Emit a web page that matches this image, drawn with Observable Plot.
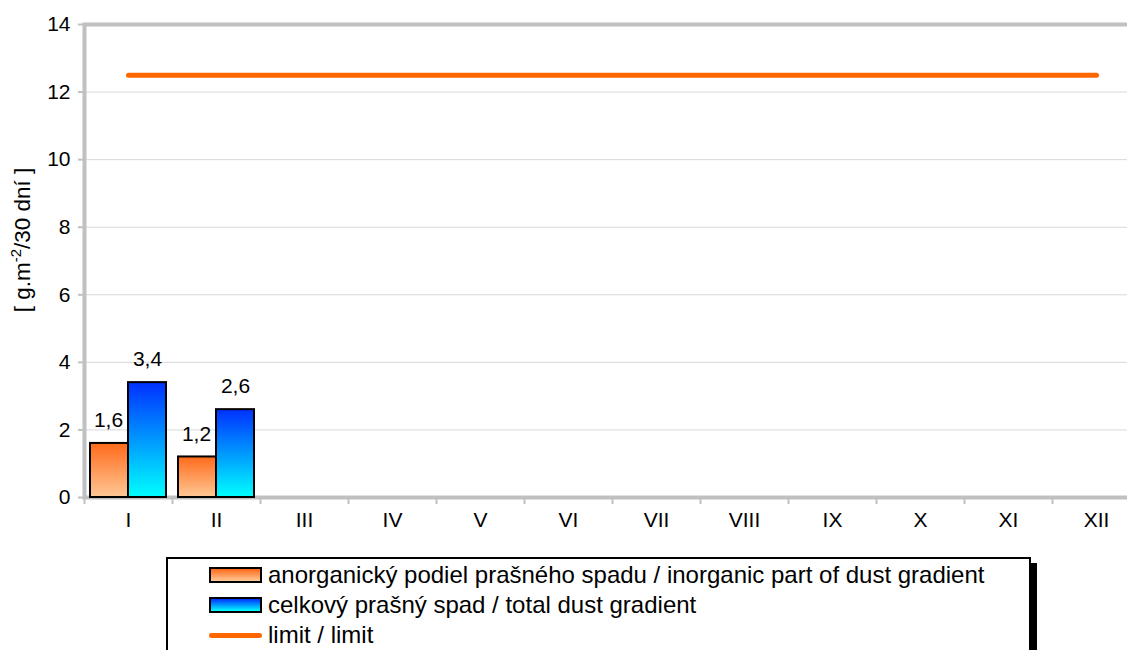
<!DOCTYPE html>
<html>
<head>
<meta charset="utf-8">
<script src="https://cdn.jsdelivr.net/npm/d3@7"></script>
<script src="https://cdn.jsdelivr.net/npm/@observablehq/plot@0.6"></script>
<style>
  body { margin: 0; background: #fff; font-family: "Liberation Sans", Arial, sans-serif; }
  #wrap { position: relative; width: 1127px; height: 650px; overflow: hidden; }
  #chart svg { max-width: none !important; }
  #legend {
    position: absolute; left: 166px; top: 557px; width: 865px; height: 130px;
    border: 2px solid #000; box-shadow: 6px 6px 0 #000; background: #fff;
    font-size: 24px; color: #000; padding-top: 1px; box-sizing: border-box;
  }
  .row { display: flex; align-items: center; height: 30px; padding-left: 41px; white-space: nowrap; }
  .sw { width: 49px; height: 12px; border: 2px solid #000; margin-right: 6px; }
  .sw.o { background: linear-gradient(#ff6a1a, #ffc896); }
  .sw.b { background: linear-gradient(#0033ff, #00ffff); }
  .ln { width: 53px; height: 5px; border-radius: 3px; background: #ff6600; margin-right: 6px; }
</style>
</head>
<body>
<div id="wrap">
  <div id="chart"></div>
  <div id="legend">
    <div class="row"><span class="sw o"></span>anorganický podiel prašného spadu / inorganic part of dust gradient</div>
    <div class="row"><span class="sw b"></span>celkový prašný spad / total dust gradient</div>
    <div class="row"><span class="ln"></span>limit / limit</div>
  </div>
</div>
<script>
const months = ["I","II","III","IV","V","VI","VII","VIII","IX","X","XI","XII"];
const inorganic = [1.6, 1.2, null, null, null, null, null, null, null, null, null, null];
const total = [3.4, 2.6, null, null, null, null, null, null, null, null, null, null];
const limitValue = 12.5;
const yTicks = [0, 2, 4, 6, 8, 10, 12, 14];

const rows = months.map((m, i) => ({month: m, inorganic: inorganic[i], total: total[i], limit: limitValue}));
const inorgRows = rows.filter(d => d.inorganic != null);
const totalRows = rows.filter(d => d.total != null);
const fmt = v => String(v).replace(".", ",");

const W = 1140, ML = 84;
const bw = (W - ML) / months.length;
const half = bw / 2;
const inset = 6;
const font = "Liberation Sans, Arial, sans-serif";

const plot = Plot.plot({
  width: W,
  height: 550,
  marginLeft: ML,
  marginRight: 0,
  marginTop: 24,
  marginBottom: 53,
  style: {fontFamily: font, fontSize: "21px", color: "#000", background: "#fff", overflow: "visible", maxWidth: "none"},
  x: {domain: months, padding: 0, label: null},
  y: {domain: [0, 14], ticks: yTicks, label: null},
  marks: [
    Plot.gridY(yTicks, {stroke: "#d9d9d9", strokeOpacity: 1, strokeWidth: 1}),
    Plot.axisY(yTicks, {tickSize: 6, tickPadding: 8, stroke: "#c0c0c0", strokeWidth: 2, fill: "#000", fontSize: 21, tickFormat: d => d}),
    Plot.axisX({tickSize: 7, text: null, dx: -half, stroke: "#c0c0c0", strokeWidth: 2}),
    Plot.axisX({tickSize: 0, tickPadding: 15, fill: "#000", fontSize: 21}),
    Plot.frame({stroke: "#c0c0c0", strokeWidth: 4}),
    Plot.barY(inorgRows, {x: "month", y: "inorganic", fill: "url(#gOrange)", stroke: "#000", strokeWidth: 2, insetLeft: inset, insetRight: half}),
    Plot.barY(totalRows, {x: "month", y: "total", fill: "url(#gBlue)", stroke: "#000", strokeWidth: 2, insetLeft: half, insetRight: inset}),
    Plot.text(inorgRows, {x: "month", y: "inorganic", text: d => fmt(d.inorganic), dx: -(half - inset) / 2 - 1, dy: -23, fill: "#000", fontSize: 21}),
    Plot.text(totalRows, {x: "month", y: "total", text: d => fmt(d.total), dx: (half - inset) / 2, dy: -23, fill: "#000", fontSize: 21}),
    Plot.lineY(rows, {x: "month", y: "limit", stroke: "#ff6600", strokeWidth: 5})
  ]
});

const svg = d3.select(plot);
const defs = svg.insert("defs", ":first-child");
const go = defs.append("linearGradient").attr("id", "gOrange").attr("x1", 0).attr("y1", 0).attr("x2", 0).attr("y2", 1);
go.append("stop").attr("offset", "0%").attr("stop-color", "#ff6a1a");
go.append("stop").attr("offset", "100%").attr("stop-color", "#ffc896");
const gb = defs.append("linearGradient").attr("id", "gBlue").attr("x1", 0).attr("y1", 0).attr("x2", 0).attr("y2", 1);
gb.append("stop").attr("offset", "0%").attr("stop-color", "#0030ff");
gb.append("stop").attr("offset", "100%").attr("stop-color", "#00ffff");

const lbl = svg.append("text")
  .attr("transform", "translate(30,240) rotate(-90)")
  .attr("text-anchor", "middle")
  .attr("font-family", font)
  .attr("font-size", 22.5)
  .attr("fill", "#000");
lbl.append("tspan").text("[ g.m");
lbl.append("tspan").attr("dy", -9).attr("font-size", 15).text("-2");
lbl.append("tspan").attr("dy", 9).text("/30 dní ]");

document.getElementById("chart").appendChild(plot);
</script>
</body>
</html>
